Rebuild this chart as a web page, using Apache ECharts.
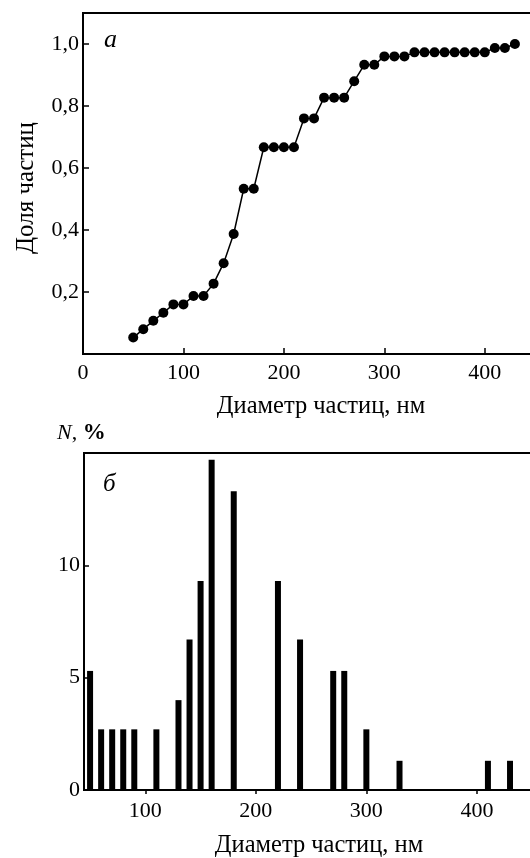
<!DOCTYPE html>
<html>
<head>
<meta charset="utf-8">
<script src="https://cdn.jsdelivr.net/npm/echarts@6/dist/echarts.min.js"></script>
<style>
html,body{margin:0;padding:0;background:#fff;}
#c{width:530px;height:858px;}
</style>
</head>
<body>
<div id="c"></div>
<script>
// Panel a: cumulative fraction of particles
const diamCum = [50,60,70,80,90,100,110,120,130,140,150,160,170,180,190,200,210,220,230,240,250,260,270,280,290,300,310,320,330,340,350,360,370,380,390,400,410,420,430];
const fracCum = [0.053,0.080,0.107,0.133,0.160,0.160,0.187,0.187,0.227,0.293,0.387,0.533,0.533,0.667,0.667,0.667,0.667,0.760,0.760,0.827,0.827,0.827,0.880,0.933,0.933,0.960,0.960,0.960,0.973,0.973,0.973,0.973,0.973,0.973,0.973,0.973,0.987,0.987,1.000];
// Panel b: histogram, N %
const diamHist = [50,60,70,80,90,110,130,140,150,160,180,220,240,270,280,300,330,410,430];
const nHist = [5.3,2.7,2.7,2.7,2.7,2.7,4.0,6.7,9.3,14.7,13.3,9.3,6.7,5.3,5.3,2.7,1.3,1.3,1.3];
// Tick labels
const xTicksB = [100,200,300,400];
const yTicksB = [0,5,10];

const FONT = 'Liberation Serif';
const chart = echarts.init(document.getElementById('c'), null, {renderer:'canvas'});
const axisLine = {show:true, lineStyle:{color:'#000', width:2}};
const lbl = {color:'#000', fontFamily:FONT, fontSize:22};

chart.setOption({
  animation:false,
  backgroundColor:'#fff',
  grid:[
    {left:83, top:13, width:452, height:341, show:true, borderColor:'#000', borderWidth:2, containLabel:false, outerBoundsMode:'none'},
    {left:84, top:453, width:452, height:337, show:true, borderColor:'#000', borderWidth:2, containLabel:false, outerBoundsMode:'none'}
  ],
  xAxis:[
    {gridIndex:0, type:'value', min:0, max:450, interval:100,
     axisLine:axisLine, axisTick:{show:true, inside:true, length:6, lineStyle:{color:'#000', width:1.5}},
     splitLine:{show:false}, axisLabel:Object.assign({margin:8, showMaxLabel:false}, lbl)},
    {gridIndex:1, type:'value', min:44.5, max:453.5,
     axisLine:axisLine, axisTick:{show:true, inside:false, length:4, customValues:xTicksB, lineStyle:{color:'#000', width:1.5}},
     splitLine:{show:false}, axisLabel:Object.assign({margin:10, customValues:xTicksB}, lbl)}
  ],
  yAxis:[
    {gridIndex:0, type:'value', min:0, max:1.1, interval:0.2,
     axisLine:axisLine, axisTick:{show:true, inside:true, length:6, lineStyle:{color:'#000', width:1.5}},
     splitLine:{show:false},
     axisLabel:Object.assign({margin:4, showMinLabel:false, showMaxLabel:false,
       formatter:function(v){return v.toFixed(1).replace('.', ',');}}, lbl)},
    {gridIndex:1, type:'value', min:0, max:15,
     axisLine:axisLine, axisTick:{show:true, inside:true, length:5, customValues:yTicksB, lineStyle:{color:'#000', width:1.5}},
     splitLine:{show:false},
     axisLabel:Object.assign({margin:4, customValues:yTicksB}, lbl)}
  ],
  series:[
    {type:'line', xAxisIndex:0, yAxisIndex:0,
     data:diamCum.map(function(d,i){return [d, fracCum[i]];}),
     symbol:'circle', symbolSize:10, showSymbol:true,
     lineStyle:{color:'#000', width:1.5}, itemStyle:{color:'#000'}},
    {type:'bar', xAxisIndex:1, yAxisIndex:1,
     data:diamHist.map(function(d,i){return [d, nHist[i]];}),
     barWidth:6, itemStyle:{color:'#000'}}
  ],
  graphic:[
    {type:'text', x:26, y:188, rotation:Math.PI/2,
     style:{text:'Доля частиц', font:'25px "Liberation Serif"', fill:'#000', align:'center', verticalAlign:'middle'}},
    {type:'text', x:321, y:407,
     style:{text:'Диаметр частиц, нм', font:'24.5px "Liberation Serif"', fill:'#000', align:'center', verticalAlign:'middle'}},
    {type:'text', x:319, y:846,
     style:{text:'Диаметр частиц, нм', font:'24.5px "Liberation Serif"', fill:'#000', align:'center', verticalAlign:'middle'}},
    {type:'text', x:104, y:40,
     style:{text:'а', font:'italic 26px "Liberation Serif"', fill:'#000', align:'left', verticalAlign:'middle'}},
    {type:'text', x:103, y:484,
     style:{text:'б', font:'italic 25px "Liberation Serif"', fill:'#000', align:'left', verticalAlign:'middle'}},
    {type:'text', x:57, y:433,
     style:{text:'{i|N}{n|, }{b|%}', fill:'#000', verticalAlign:'middle', align:'left',
       rich:{
         i:{fontFamily:FONT, fontStyle:'italic', fontSize:22, fill:'#000'},
         n:{fontFamily:FONT, fontSize:22, fill:'#000'},
         b:{fontFamily:FONT, fontWeight:'bold', fontSize:23, fill:'#000'}
       }}}
  ]
});
</script>
</body>
</html>
